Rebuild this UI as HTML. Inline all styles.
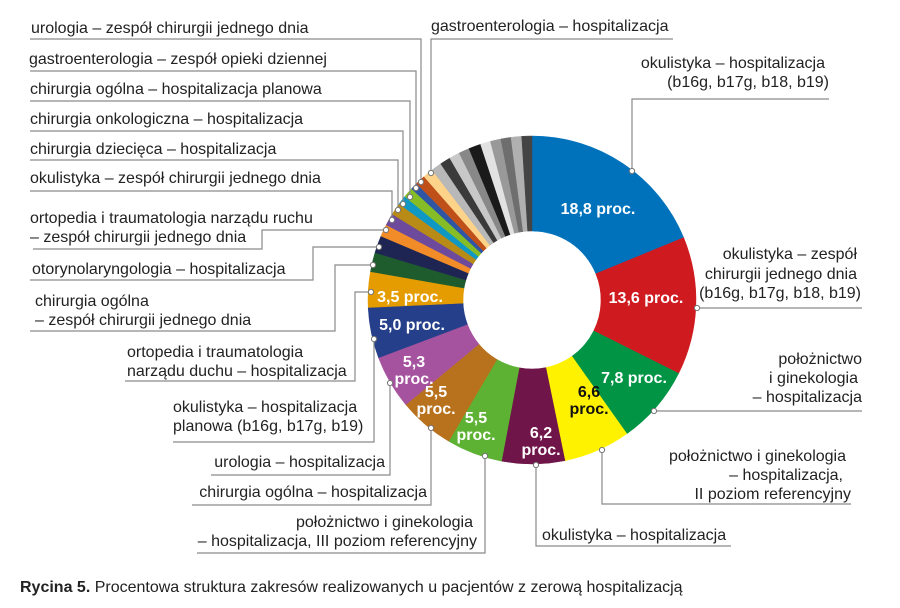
<!DOCTYPE html>
<html><head><meta charset="utf-8"><style>
body{margin:0;background:#fff}
svg{display:block}
text{font-family:"Liberation Sans",sans-serif;fill:#222;font-size:16px}
.w{fill:#fff;font-weight:bold;font-size:16px;text-anchor:middle}
.k{fill:#111;font-weight:bold;font-size:16px;text-anchor:middle}
.e{text-anchor:end}
</style></head><body>
<svg id="s" width="900" height="608" viewBox="0 0 900 608" xmlns="http://www.w3.org/2000/svg">
<g id="pie"></g>
<g fill="none" stroke="#8a8a8a" stroke-width="1.2">
<polyline points="30,39 421,39 421,182"/>
<polyline points="30,71 416,71 416,188"/>
<polyline points="30,101 410,101 410,197"/>
<polyline points="30,131 403,131 403,204"/>
<polyline points="30,160 398,160 398,210"/>
<polyline points="30,191 392,191 392,220"/>
<polyline points="33,249 262,249 262,230 386,230"/>
<polyline points="30,280 313,280 313,247 379,247"/>
<polyline points="30,331 335,331 335,265 373,265"/>
<polyline points="125,381 355,381 355,292 371,292"/>
<polyline points="173,442 374,442 374,339"/>
<polyline points="211,475 390,475 390,383"/>
<polyline points="192,505 431,505 431,428"/>
<polyline points="197,553 485,553 485,456"/>
<polyline points="431,173 431,39 673,39"/>
<polyline points="632,171 632,99 829,99"/>
<polyline points="697,308 862,308"/>
<polyline points="654,411 862,411"/>
<polyline points="602,450 602,504 851,504"/>
<polyline points="536,465 536,546 731,546"/>
</g>
<g id="dots" fill="#fff" stroke="#777" stroke-width="1"></g>
<text x="31" y="33">urologia – zespół chirurgii jednego dnia</text>
<text x="29" y="64">gastroenterologia – zespół opieki dziennej</text>
<text x="30" y="94">chirurgia ogólna – hospitalizacja planowa</text>
<text x="30" y="124">chirurgia onkologiczna – hospitalizacja</text>
<text x="30" y="154">chirurgia dziecięca – hospitalizacja</text>
<text x="30" y="183">okulistyka – zespół chirurgii jednego dnia</text>
<text x="30" y="223">ortopedia i traumatologia narządu ruchu</text>
<text x="30" y="242">– zespół chirurgii jednego dnia</text>
<text x="32" y="274">otorynolaryngologia – hospitalizacja</text>
<text x="35" y="306">chirurgia ogólna</text>
<text x="35" y="325">– zespół chirurgii jednego dnia</text>
<text x="127" y="357">ortopedia i traumatologia</text>
<text x="127" y="376">narządu duchu – hospitalizacja</text>
<text x="173" y="412">okulistyka – hospitalizacja</text>
<text x="173" y="431">planowa (b16g, b17g, b19)</text>
<text x="385" y="467" class="e">urologia – hospitalizacja</text>
<text x="427" y="497" class="e">chirurgia ogólna – hospitalizacja</text>
<text x="473" y="527" class="e">położnictwo i ginekologia</text>
<text x="477" y="546" class="e">– hospitalizacja, III poziom referencyjny</text>
<text x="431" y="31">gastroenterologia – hospitalizacja</text>
<text x="825" y="68" class="e">okulistyka – hospitalizacja</text>
<text x="829" y="87" class="e">(b16g, b17g, b18, b19)</text>
<text x="857" y="259" class="e">okulistyka – zespół</text>
<text x="857" y="279" class="e">chirurgii jednego dnia</text>
<text x="861" y="298" class="e">(b16g, b17g, b18, b19)</text>
<text x="862" y="364" class="e">położnictwo</text>
<text x="858" y="383" class="e">i ginekologia</text>
<text x="862" y="402" class="e">– hospitalizacja</text>
<text x="846" y="461" class="e">położnictwo i ginekologia</text>
<text x="843" y="480" class="e">– hospitalizacja,</text>
<text x="851" y="499" class="e">II poziom referencyjny</text>
<text x="542" y="540">okulistyka – hospitalizacja</text>
<text class="w" x="598" y="214">18,8 proc.</text>
<text class="w" x="646" y="303">13,6 proc.</text>
<text class="w" x="634" y="383">7,8 proc.</text>
<text class="k" x="589" y="397">6,6</text><text class="k" x="589" y="414">proc.</text>
<text class="w" x="541" y="438">6,2</text><text class="w" x="541" y="455">proc.</text>
<text class="w" x="476" y="423">5,5</text><text class="w" x="476" y="440">proc.</text>
<text class="w" x="436" y="397">5,5</text><text class="w" x="436" y="414">proc.</text>
<text class="w" x="414" y="367">5,3</text><text class="w" x="414" y="384">proc.</text>
<text class="w" x="412" y="330">5,0 proc.</text>
<text class="w" x="410" y="302">3,5 proc.</text>
<text x="20" y="592" style="font-size:16px"><tspan font-weight="bold">Rycina 5.</tspan> Procentowa struktura zakresów realizowanych u pacjentów z zerową hospitalizacją</text>
</svg>
<script>
var cx=532,cy=300,R=164,r=69;
var d=[[18.8,"#0072bc"],[13.6,"#cf1a1f"],[7.8,"#009444"],[6.6,"#fff200"],[6.2,"#701549"],[5.5,"#5db233"],[5.5,"#b8711c"],[5.3,"#a6539f"],[5.0,"#263f8a"],[3.5,"#e59c00"],
[1.9,"#1e5c2e"],[1.7,"#1f2553"],[1.2,"#f28c28"],[1.2,"#6d4a9c"],[1.2,"#b88a16"],[0.9,"#0f98c4"],[1.0,"#86bc25"],[0.7,"#2e56a5"],[1.0,"#c0501a"],[1.0,"#fdd38a"],
[1.04,"#b8b8b8"],[1.04,"#3a3a3a"],[1.04,"#c8c8c8"],[1.04,"#888"],[1.2,"#1a1a1a"],[1.0,"#e2e2e2"],[1.04,"#999"],[1.0,"#6e6e6e"],[1.04,"#b0b0b0"],[1.0,"#444"]];
var tot=0;d.forEach(function(x){tot+=x[0]});
function p(a,rr){a=a*Math.PI/180;return (cx+rr*Math.sin(a)).toFixed(2)+","+(cy-rr*Math.cos(a)).toFixed(2)}
var a=0,h="";
d.forEach(function(x){var b=a+x[0]/tot*360;var l=(b-a)>180?1:0;
h+='<path fill="'+x[1]+'" stroke="'+x[1]+'" stroke-width="0.5" d="M'+p(a,R)+' A'+R+','+R+' 0 '+l+' 1 '+p(b,R)+' L'+p(b,r)+' A'+r+','+r+' 0 '+l+' 0 '+p(a,r)+' Z"/>';a=b;});
document.getElementById("pie").innerHTML=h;
var dots=[[421,182],[416,188],[410,197],[403,204],[398,210],[392,220],[386,230],[379,247],[373,265],[371,292],[374,339],[390,383],[431,428],[485,456],[431,173],[632,171],[697,308],[654,411],[602,450],[536,465]];
var g="";dots.forEach(function(q){g+='<circle cx="'+q[0]+'" cy="'+q[1]+'" r="2.6"/>'});
document.getElementById("dots").innerHTML=g;
</script>
</body></html>
